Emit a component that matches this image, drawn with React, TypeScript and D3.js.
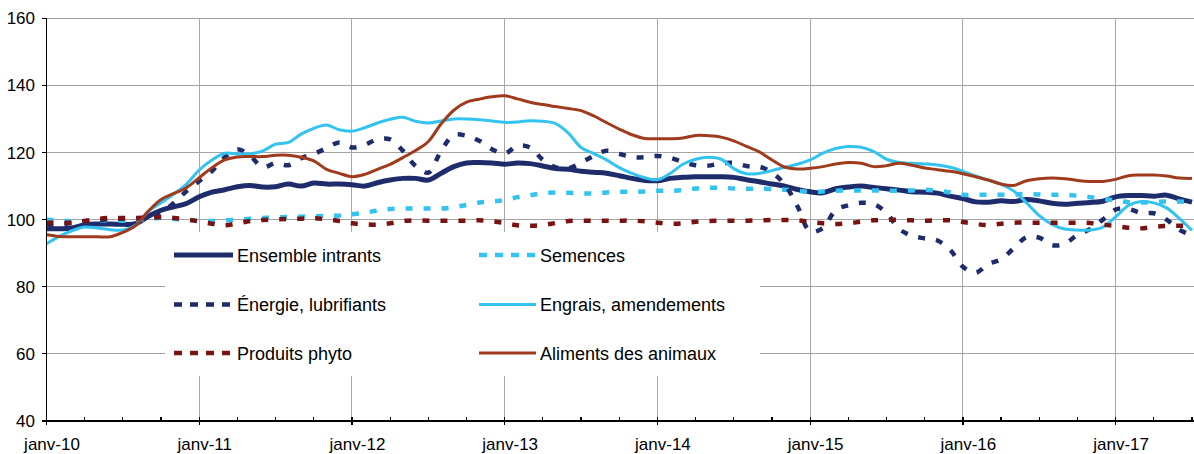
import React from 'react';
import * as d3 from 'd3';

// Monthly indices, janv-10 (0) .. juil-17 (90)
const yearLabels = ['janv-10', 'janv-11', 'janv-12', 'janv-13', 'janv-14', 'janv-15', 'janv-16', 'janv-17'];
const yTicks = [40, 60, 80, 100, 120, 140, 160];

const ensembleIntrants = [
  97.3, 97.3, 97.5, 98.5, 98.7, 98.7, 98.6, 98.8, 101.0, 102.8, 103.8, 104.8,
  106.8, 108.2, 108.9, 109.8, 110.2, 109.7, 109.8, 110.6, 110.0, 110.9, 110.6, 110.6,
  110.4, 110.0, 111.0, 111.8, 112.3, 112.3, 111.8, 113.8, 115.8, 116.9, 117.0, 116.9,
  116.5, 116.9, 116.7, 116.0, 115.2, 115.0, 114.4, 114.1, 113.8, 113.1, 112.3, 111.7,
  111.6, 112.3, 112.6, 112.8, 112.8, 112.8, 112.6, 111.9, 111.3, 110.6, 110.0, 109.0,
  108.3, 108.0, 109.2, 109.7, 110.0, 109.6, 109.2, 108.8, 108.3, 108.2, 107.9, 107.0,
  106.3, 105.3, 105.2, 105.6, 105.4, 106.0, 105.6, 104.9, 104.6, 104.9, 105.1, 105.5,
  106.8, 107.2, 107.2, 107.0, 107.3, 106.2, 105.2,
];

const semences = [
  100.0, 99.8, 99.5, 99.6, 99.7, 99.8, 99.7, 99.7, 100.3, 100.5, 100.2, 99.9,
  99.7, 99.6, 99.8, 100.0, 100.3, 100.5, 100.7, 100.8, 100.9, 101.0, 101.1, 101.2,
  101.6, 102.1, 102.7, 103.2, 103.3, 103.3, 103.3, 103.3, 103.7, 104.4, 105.1, 105.4,
  105.8, 106.7, 107.3, 107.9, 108.1, 108.0, 107.8, 107.8, 108.1, 108.3, 108.3, 108.4,
  108.6, 108.6, 108.8, 109.3, 109.5, 109.5, 109.3, 109.2, 109.2, 109.1, 108.9, 108.6,
  108.3, 108.4, 108.6, 108.7, 108.7, 108.7, 108.6, 108.6, 108.7, 108.9, 108.6, 108.1,
  107.4, 107.4, 107.4, 107.4, 107.5, 107.7, 107.5, 107.4, 107.4, 107.1, 106.7, 106.2,
  105.7, 105.2, 105.1, 105.3, 105.4, 105.4, 105.3,
];

const energieLubrifiants = [
  98.0, 98.5, 99.0, 99.5, 99.8, 100.2, 100.3, 100.4, 100.5, 102.0, 105.0, 108.5,
  111.5, 114.5, 118.6, 121.0, 119.0, 115.6, 116.9, 116.2, 118.3, 119.6, 121.3, 123.0,
  121.5, 122.3, 123.9, 123.9, 120.5, 116.0, 114.0, 120.5, 125.2, 125.0, 123.5, 121.0,
  119.7, 122.0, 121.5, 117.8, 115.6, 115.3, 117.0, 119.0, 120.5, 119.6, 118.6, 118.6,
  119.0, 118.4, 117.2, 116.2, 116.1, 116.8, 116.9, 116.0, 115.8, 114.0, 110.5, 104.0,
  96.5, 97.5, 102.8, 104.3, 105.0, 104.6, 102.0, 97.2, 95.2, 94.4, 93.8, 91.0,
  86.0, 84.2, 86.8, 88.2, 91.5, 94.8, 94.6, 92.4, 92.8, 95.5, 97.2, 100.0,
  103.0, 103.2, 102.0, 101.9, 100.0, 97.0, 95.3,
];

const engraisAmendements = [
  92.8, 95.0, 96.7, 97.8, 97.5, 97.0, 96.9, 98.3, 102.5, 105.0, 107.6, 110.6,
  114.8, 117.8, 119.8, 119.6, 119.6, 120.5, 122.5, 123.0, 125.5, 127.2, 128.2, 126.8,
  126.4, 127.4, 128.8, 129.9, 130.5, 129.3, 128.8, 129.4, 130.0, 130.0, 129.8, 129.4,
  129.0, 129.1, 129.5, 129.3, 128.6, 125.8, 121.5, 119.7, 117.8, 115.5, 113.8, 112.5,
  111.9, 113.8, 116.5, 118.0, 118.6, 118.0, 115.2, 113.7, 113.8, 114.6, 115.6, 116.5,
  117.8, 119.8, 121.2, 121.8, 121.6, 120.3, 118.0, 117.0, 116.8, 116.6, 116.3, 115.6,
  114.4, 113.0, 111.8, 110.6, 108.5, 105.0, 101.2, 98.6, 97.2, 96.9, 96.9, 97.8,
  100.8, 104.2, 105.4, 105.0, 103.5, 100.4, 96.8,
];

const produitsPhyto = [
  99.1, 99.1, 99.1, 99.6, 100.2, 100.5, 100.5, 100.5, 100.6, 100.7, 100.5, 100.1,
  99.4, 98.8, 98.3, 98.9, 99.6, 99.9, 100.1, 100.2, 100.3, 100.4, 100.1, 99.6,
  98.9, 98.6, 98.5, 98.9, 99.6, 99.8, 99.7, 99.7, 99.7, 99.7, 99.8, 99.5,
  99.0, 98.3, 98.2, 98.4, 99.0, 99.6, 99.7, 99.7, 99.7, 99.7, 99.7, 99.5,
  99.1, 98.8, 98.9, 99.4, 99.6, 99.7, 99.7, 99.7, 99.8, 99.9, 99.9, 99.8,
  99.3, 98.9, 98.7, 98.9, 99.4, 99.8, 100.0, 99.9, 99.8, 99.7, 99.8, 99.8,
  99.3, 98.7, 98.4, 98.8, 99.1, 99.1, 99.1, 99.1, 99.1, 99.1, 99.0, 98.5,
  98.1, 97.6, 97.4, 97.9, 98.1, 98.2, 98.1,
];

const alimentsAnimaux = [
  95.5, 95.0, 94.9, 94.9, 94.9, 94.9, 96.2, 98.2, 102.5, 106.0, 107.8, 109.5,
  112.5, 115.5, 117.8, 118.7, 118.8, 118.8, 119.2, 119.2, 118.6, 117.5, 115.0, 113.8,
  112.8, 113.5, 115.0, 116.5, 118.5, 120.6, 123.3, 128.5, 132.6, 135.0, 135.9, 136.6,
  136.9, 136.0, 135.0, 134.3, 133.7, 133.1, 132.5, 130.9, 128.9, 127.0, 125.3, 124.2,
  124.1, 124.1, 124.3, 125.1, 125.0, 124.6, 123.5, 121.8, 120.2, 117.8, 115.7, 115.1,
  115.3, 115.8, 116.6, 117.0, 116.8, 115.8, 116.1, 116.8, 116.2, 115.4, 114.9, 114.4,
  113.7, 112.8, 111.8, 110.6, 110.2, 111.6, 112.2, 112.4, 112.2, 111.7, 111.4, 111.4,
  112.0, 113.1, 113.3, 113.3, 113.0, 112.4, 112.3,
];

const NAVY = '#1f2c6c';
const CYAN = '#33c3f1';
const DARK_RED = '#7a1212';
const BROWN = '#a03a1c';

type Series = {
  name: string;
  values: number[];
  color: string;
  width: number;
  dash?: string;
};

// Drawing order follows the legend (row by row)
const series: Series[] = [
  { name: 'Ensemble intrants', values: ensembleIntrants, color: NAVY, width: 5 },
  { name: 'Semences', values: semences, color: CYAN, width: 4.5, dash: '7 11' },
  { name: 'Énergie, lubrifiants', values: energieLubrifiants, color: NAVY, width: 4.5, dash: '7 11' },
  { name: 'Engrais, amendements', values: engraisAmendements, color: CYAN, width: 3 },
  { name: 'Produits phyto', values: produitsPhyto, color: DARK_RED, width: 4.5, dash: '7 11' },
  { name: 'Aliments des animaux', values: alimentsAnimaux, color: BROWN, width: 3 },
];

const W = 1194;
const H = 454;
const LEFT = 46.5;
const RIGHT = 1192;
const TOP = 18.3;
const BOTTOM = 421;
const FONT = '"Liberation Sans", Arial, Helvetica, sans-serif';

export default function App() {
  const lastIndex = ensembleIntrants.length - 1;
  const x = d3.scaleLinear().domain([0, lastIndex]).range([LEFT, RIGHT]);
  const y = d3.scaleLinear().domain([40, 160]).range([BOTTOM, TOP]);

  const line = d3
    .line<number>()
    .x((_, i) => x(i))
    .y((v) => y(v))
    .curve(d3.curveCatmullRom.alpha(0.5));

  const yearIdx = yearLabels.map((_, k) => k * 12);
  const quarterIdx = d3.range(0, lastIndex + 1, 3).filter((i) => i % 12 !== 0);

  const legendCols = [
    { x0: 174, x1: 233, tx: 237 },
    { x0: 479, x1: 536, tx: 540 },
  ];
  const legendRows = [255, 304.5, 353];

  return (
    <svg
      width={W}
      height={H}
      viewBox={`0 0 ${W} ${H}`}
      style={{ position: 'absolute', left: 0, top: 0, background: '#fff' }}
    >
      <rect x={0} y={0} width={W} height={H} fill="#fff" />

      {/* gridlines */}
      <g shapeRendering="crispEdges">
        {yTicks
          .filter((t) => t > 40)
          .map((t) => (
            <line key={`h${t}`} x1={LEFT} x2={W} y1={y(t)} y2={y(t)} stroke="#a3a3a3" strokeWidth={1} />
          ))}
        {yearIdx
          .filter((i) => i > 0)
          .map((i) => (
            <line key={`v${i}`} x1={x(i)} x2={x(i)} y1={TOP} y2={BOTTOM} stroke="#a8a8a8" strokeWidth={1} />
          ))}
      </g>

      {/* series */}
      <g fill="none">
        {series.map((s) => (
          <path
            key={s.name}
            d={line(s.values) || ''}
            stroke={s.color}
            strokeWidth={s.width}
            strokeDasharray={s.dash}
            strokeLinejoin="round"
          />
        ))}
      </g>

      {/* legend */}
      <rect x={165} y={232} width={595} height={144} fill="#fff" />
      <g fontFamily={FONT} fontSize={18} fill="#000">
        {series.map((s, k) => {
          const col = legendCols[k % 2];
          const cy = legendRows[Math.floor(k / 2)];
          return (
            <g key={`lg${s.name}`}>
              <line
                x1={col.x0}
                x2={col.x1}
                y1={cy}
                y2={cy}
                stroke={s.color}
                strokeWidth={s.width}
                strokeDasharray={s.dash ? '8 8' : undefined}
              />
              <text x={col.tx} y={cy + 6.5}>
                {s.name}
              </text>
            </g>
          );
        })}
      </g>

      {/* axes */}
      <g shapeRendering="crispEdges" stroke="#000" strokeWidth={1.2}>
        <line x1={LEFT} x2={LEFT} y1={TOP} y2={BOTTOM + 4} />
        <line x1={LEFT} x2={W} y1={BOTTOM} y2={BOTTOM} />
        {yTicks.map((t) => (
          <line key={`yt${t}`} x1={LEFT - 5} x2={LEFT} y1={y(t)} y2={y(t)} />
        ))}
        {quarterIdx.map((i) => (
          <line key={`qt${i}`} x1={x(i)} x2={x(i)} y1={BOTTOM - 4} y2={BOTTOM} />
        ))}
        {yearIdx.map((i) => (
          <line key={`yr${i}`} x1={x(i)} x2={x(i)} y1={BOTTOM - 4} y2={BOTTOM + 4} />
        ))}
      </g>

      <g fontFamily={FONT} fontSize={17} fill="#000">
        {yTicks.map((t) => (
          <text key={`yl${t}`} x={35} y={y(t) + 6} textAnchor="end">
            {t}
          </text>
        ))}
        {yearLabels.map((lab, k) => (
          <text key={lab} x={x(yearIdx[k]) + 5.5} y={449.5} textAnchor="middle">
            {lab}
          </text>
        ))}
      </g>
    </svg>
  );
}
